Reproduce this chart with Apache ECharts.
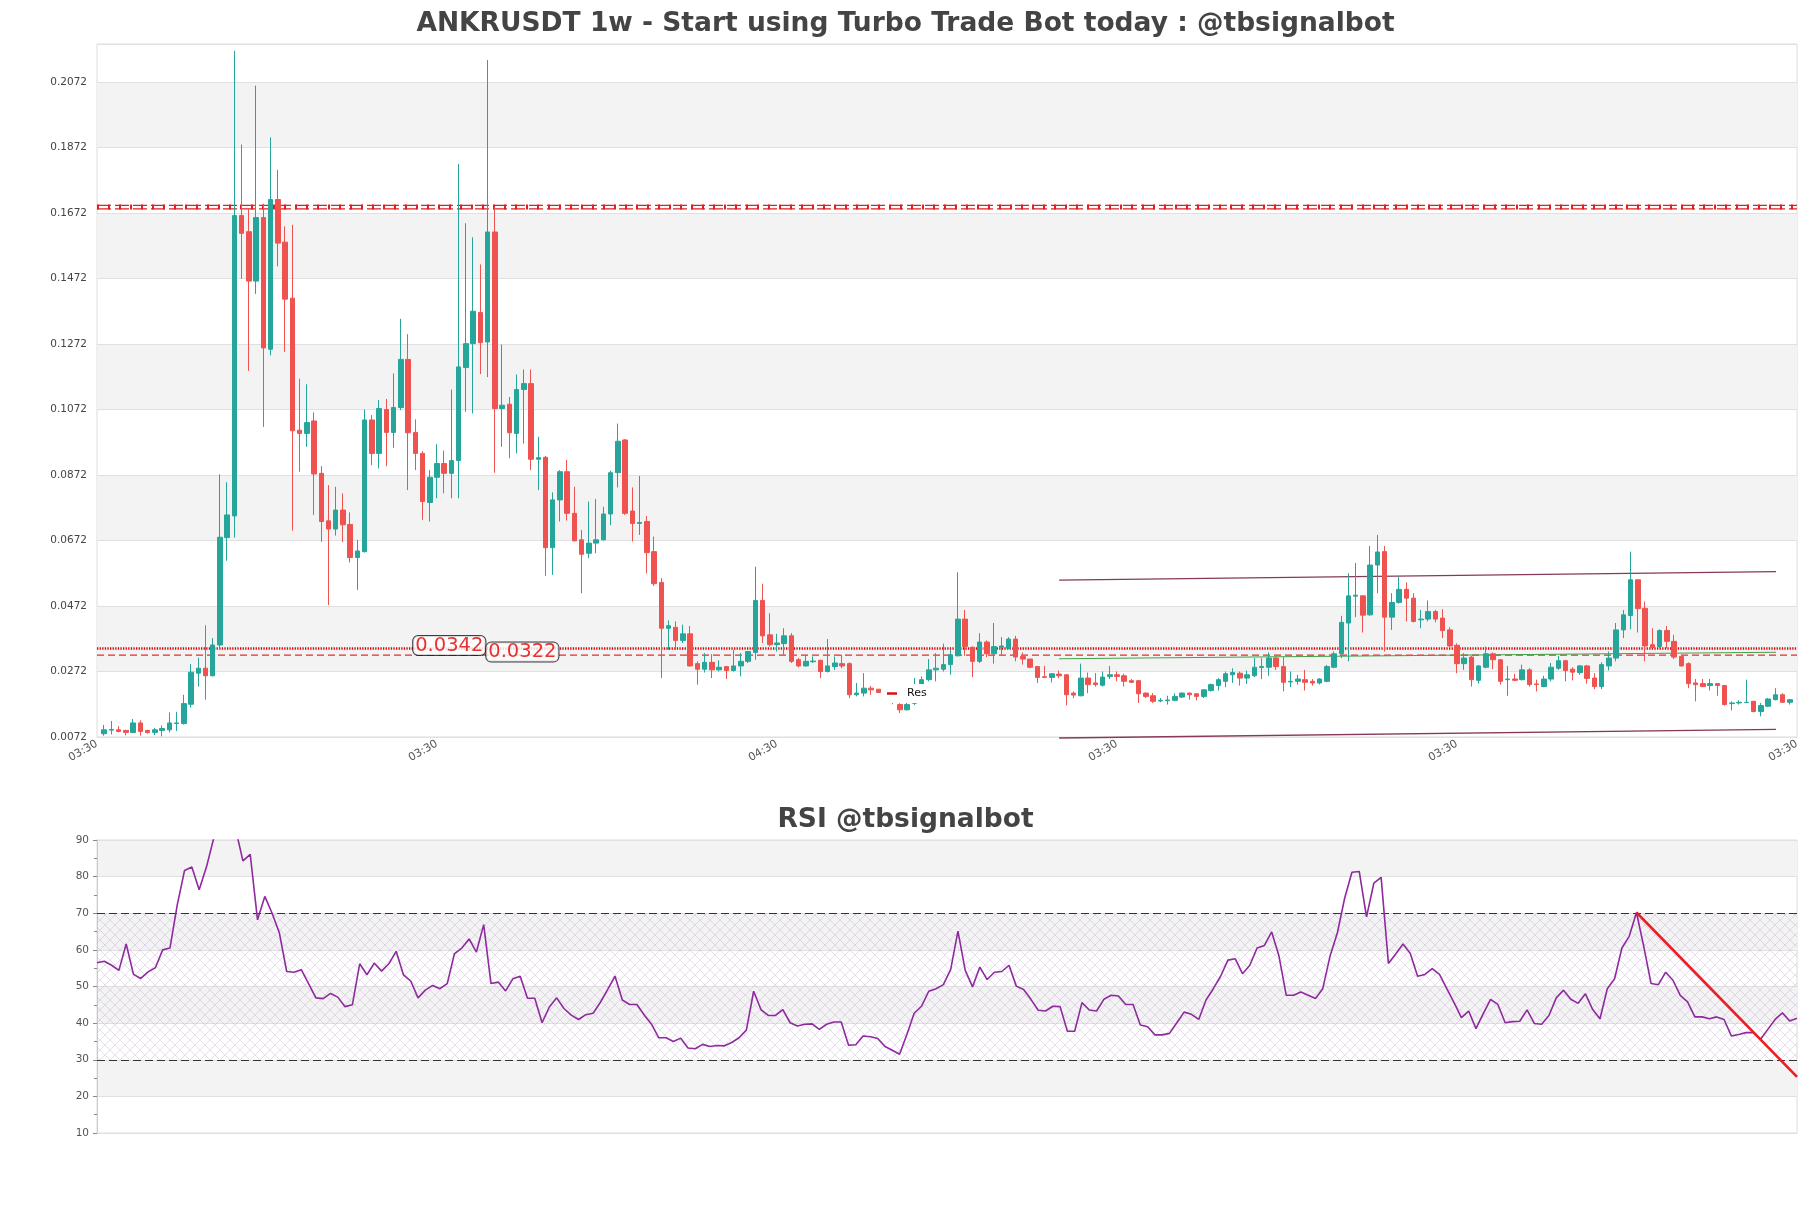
<!DOCTYPE html>
<html><head><meta charset="utf-8">
<script src="https://cdn.jsdelivr.net/npm/echarts/dist/echarts.min.js"></script>
<style>html,body{margin:0;padding:0;background:#fff}#c{width:1811px;height:1208px}</style>
</head><body><div id="c"></div>
<script>
const opens = [.0082,.0093,.0094,.0092,.0086,.0115,.0092,.0086,.0092,.0094,.0113,.0113,.0172,.0267,.0282,.0259,.0353,.0681,.0747,.1664,
.1615,.1464,.1658,.1256,.1713,.1583,.1412,.1009,.0999,.1037,.0877,.0732,.0707,.0765,.0721,.0620,.0638,.1040,.0938,.1072,
.1002,.1078,.1225,.1002,.0938,.0788,.0865,.0907,.0877,.0916,.1200,.1273,.1368,.1278,.1614,.1075,.1088,.0999,.1133,.1151,
.0920,.0926,.0650,.0796,.0882,.0755,.0674,.0633,.0664,.0674,.0753,.0879,.0979,.0762,.0724,.0730,.0638,.0544,.0404,.0407,
.0367,.0387,.0296,.0279,.0300,.0277,.0287,.0275,.0289,.0303,.0330,.0489,.0384,.0354,.0357,.0381,.0308,.0289,.0302,.0306,
.0272,.0287,.0296,.0296,.0201,.0206,.0221,.0218,.0208,.0195,.0171,.0155,.0175,.0229,.0247,.0277,.0279,.0293,.0320,.0432,
.0346,.0303,.0362,.0326,.0346,.0343,.0371,.0318,.0310,.0287,.0256,.0254,.0264,.0262,.0206,.0198,.0252,.0237,.0230,.0257,
.0262,.0259,.0244,.0244,.0206,.0198,.0182,.0183,.0184,.0194,.0206,.0204,.0196,.0214,.0229,.0242,.0262,.0267,.0252,.0259,
.0284,.0285,.0313,.0287,.0240,.0242,.0247,.0242,.0237,.0242,.0285,.0326,.0420,.0502,.0503,.0445,.0597,.0638,.0438,.0483,
.0523,.0496,.0430,.0432,.0455,.0435,.0399,.0352,.0296,.0316,.0245,.0285,.0326,.0308,.0247,.0249,.0247,.0277,.0234,.0226,
.0249,.0282,.0305,.0279,.0269,.0289,.0252,.0226,.0289,.0313,.0399,.0443,.0552,.0465,.0354,.0348,.0397,.0364,.0318,.0296,
.0237,.0235,.0229,.0235,.0229,.0174,.0176,.0177,.0181,.0150,.0166,.0186,.0201,.0178];
const closes = [.0094,.0095,.0089,.0086,.0115,.0089,.0086,.0094,.0098,.0115,.0115,.0174,.0270,.0282,.0259,.0353,.0682,.0750,.1664,.1610,
.1464,.1658,.1260,.1713,.1580,.1409,.1007,.0999,.1032,.0875,.0730,.0707,.0765,.0720,.0620,.0640,.1040,.0938,.1075,.1002,
.1078,.1225,.1001,.0938,.0791,.0865,.0907,.0877,.0916,.1202,.1273,.1372,.1276,.1614,.1075,.1085,.1001,.1133,.1151,.0920,
.0925,.0650,.0796,.0882,.0755,.0671,.0630,.0664,.0674,.0753,.0879,.0975,.0755,.0724,.0727,.0635,.0540,.0404,.0412,.0367,
.0387,.0289,.0279,.0300,.0277,.0285,.0275,.0289,.0303,.0333,.0489,.0381,.0354,.0359,.0381,.0303,.0289,.0303,.0304,.0272,
.0289,.0298,.0289,.0201,.0206,.0221,.0216,.0208,.0195,.0180,.0155,.0171,.0232,.0247,.0277,.0282,.0293,.0323,.0432,.0348,
.0303,.0362,.0326,.0348,.0350,.0371,.0316,.0310,.0285,.0254,.0254,.0265,.0259,.0201,.0200,.0252,.0232,.0232,.0255,.0262,
.0257,.0242,.0239,.0204,.0196,.0181,.0184,.0185,.0196,.0206,.0201,.0196,.0216,.0232,.0247,.0265,.0269,.0252,.0262,.0285,
.0287,.0313,.0287,.0239,.0242,.0249,.0239,.0237,.0249,.0287,.0326,.0422,.0503,.0505,.0444,.0597,.0637,.0438,.0483,.0523,
.0496,.0425,.0432,.0455,.0432,.0397,.0350,.0296,.0313,.0247,.0289,.0326,.0308,.0242,.0249,.0245,.0277,.0232,.0232,.0249,
.0285,.0305,.0275,.0270,.0289,.0251,.0226,.0293,.0313,.0399,.0445,.0552,.0464,.0350,.0345,.0397,.0364,.0316,.0289,.0235,
.0232,.0226,.0235,.0229,.0171,.0176,.0178,.0178,.0150,.0168,.0188,.0201,.0178,.0186];
const lows = [.0076,.0080,.0086,.0077,.0084,.0076,.0082,.0078,.0074,.0086,.0090,.0110,.0162,.0226,.0186,.0257,.0338,.0610,.0681,.1471,
.1190,.1425,.1019,.1237,.1509,.1248,.0702,.0882,.0958,.0750,.0668,.0475,.0687,.0667,.0605,.0521,.0635,.0902,.0892,.0899,
.0955,.1070,.0826,.0887,.0735,.0730,.0801,.0816,.0801,.0801,.1065,.1060,.1180,.1171,.0879,.0958,.0923,.0938,.0968,.0887,
.0826,.0564,.0567,.0730,.0733,.0669,.0511,.0618,.0633,.0672,.0719,.0834,.0750,.0669,.0689,.0572,.0533,.0252,.0338,.0338,
.0359,.0287,.0232,.0269,.0252,.0272,.0249,.0272,.0257,.0298,.0308,.0359,.0348,.0333,.0323,.0298,.0285,.0287,.0298,.0252,
.0269,.0277,.0282,.0191,.0196,.0196,.0201,.0206,.0190,.0172,.0145,.0153,.0170,.0226,.0242,.0242,.0272,.0262,.0318,.0320,
.0255,.0298,.0316,.0296,.0323,.0340,.0303,.0293,.0282,.0237,.0252,.0239,.0252,.0168,.0191,.0196,.0206,.0226,.0226,.0249,
.0242,.0226,.0237,.0176,.0191,.0176,.0178,.0171,.0181,.0191,.0186,.0184,.0191,.0211,.0214,.0224,.0237,.0229,.0234,.0255,
.0249,.0259,.0277,.0211,.0224,.0232,.0214,.0229,.0232,.0239,.0282,.0313,.0303,.0438,.0391,.0442,.0511,.0333,.0399,.0479,
.0425,.0422,.0404,.0425,.0422,.0374,.0343,.0267,.0277,.0226,.0235,.0282,.0279,.0232,.0198,.0242,.0245,.0226,.0211,.0224,
.0242,.0277,.0242,.0245,.0262,.0235,.0218,.0218,.0275,.0303,.0374,.0401,.0391,.0303,.0343,.0343,.0343,.0310,.0287,.0221,
.0181,.0224,.0214,.0198,.0168,.0153,.0171,.0176,.0147,.0135,.0163,.0184,.0176,.0171];
const highs = [.0109,.0121,.0105,.0094,.0127,.0123,.0094,.0100,.0107,.0147,.0149,.0201,.0295,.0314,.0413,.0374,.0874,.0850,.2167,.1881,
.1685,.2061,.1700,.1903,.1804,.1631,.1636,.1166,.1149,.1063,.0899,.0841,.0836,.0816,.0758,.0674,.1072,.1055,.1101,.1104,
.1182,.1349,.1302,.1042,.0945,.0887,.0966,.0946,.1133,.1822,.1641,.1598,.1515,.2139,.1690,.1270,.1110,.1179,.1194,.1194,
.0989,.0930,.0819,.0887,.0918,.0836,.0704,.0791,.0799,.0775,.0885,.1029,.0982,.0834,.0869,.0747,.0684,.0557,.0428,.0425,
.0415,.0411,.0303,.0328,.0325,.0306,.0289,.0338,.0328,.0335,.0592,.0540,.0450,.0387,.0404,.0389,.0313,.0323,.0318,.0308,
.0371,.0318,.0323,.0300,.0237,.0267,.0228,.0218,.0210,.0200,.0175,.0176,.0252,.0257,.0310,.0328,.0357,.0340,.0575,.0460,
.0348,.0389,.0367,.0420,.0377,.0377,.0381,.0330,.0310,.0289,.0289,.0267,.0275,.0264,.0211,.0296,.0269,.0267,.0272,.0289,
.0272,.0265,.0249,.0246,.0208,.0206,.0191,.0198,.0206,.0208,.0208,.0206,.0218,.0235,.0252,.0272,.0282,.0272,.0275,.0313,
.0313,.0330,.0318,.0316,.0272,.0262,.0277,.0249,.0252,.0292,.0333,.0442,.0572,.0603,.0505,.0655,.0689,.0655,.0511,.0562,
.0544,.0511,.0460,.0489,.0460,.0462,.0407,.0358,.0328,.0320,.0292,.0348,.0330,.0310,.0289,.0265,.0293,.0282,.0247,.0259,
.0298,.0320,.0306,.0285,.0292,.0292,.0267,.0300,.0333,.0420,.0460,.0638,.0552,.0486,.0404,.0401,.0411,.0384,.0323,.0300,
.0249,.0249,.0249,.0235,.0229,.0181,.0184,.0247,.0181,.0176,.0191,.0221,.0206,.0188];
const rsiValues = [56.5,56.9,55.8,54.4,61.6,53.3,52.2,54.0,55.1,60.0,
60.5,72.3,81.7,82.6,76.4,82.6,90.5,94,97,93,
84.3,86.1,68.2,74.6,70.0,64.6,54.1,53.9,54.6,50.8,
46.9,46.7,48.1,47.1,44.5,45.0,56.2,53.2,56.4,54.2,
56.2,59.6,53.2,51.5,46.9,49.0,50.3,49.4,50.8,59.0,
60.5,63.0,59.4,66.9,50.8,51.2,48.8,52.1,52.8,46.8,
46.8,40.1,44.4,46.9,44.0,42.2,41.0,42.3,42.7,45.7,
49.2,52.8,46.3,45.1,45.1,42.2,39.7,36.0,36.0,35.0,
35.9,33.2,33.0,34.2,33.6,33.9,33.8,34.7,36.0,38.1,
48.7,43.7,42.1,42.1,43.7,40.1,39.2,39.7,39.8,38.3,
39.7,40.3,40.3,34.0,34.1,36.5,36.3,35.8,33.6,32.6,
31.5,36.9,42.7,44.6,48.7,49.4,50.5,54.6,65.1,54.4,
49.9,55.3,51.9,53.9,54.1,55.8,50.1,49.2,46.5,43.5,
43.3,44.6,44.5,37.8,37.8,45.6,43.6,43.3,46.5,47.6,
47.4,45.1,45.1,39.5,39.0,36.8,36.8,37.2,40.1,43.0,
42.4,41.0,46.3,49.4,52.8,57.2,57.6,53.5,55.8,60.5,
61.2,64.9,58.3,47.6,47.6,48.5,47.6,46.7,49.4,58.3,
64.6,74.1,81.2,81.4,69.0,78.2,79.8,56.3,58.9,61.6,
59.0,52.8,53.3,54.9,53.3,49.4,45.6,41.5,43.3,38.5,
42.6,46.5,45.1,40.1,40.4,40.5,43.6,39.9,39.7,42.1,
46.9,49.0,46.5,45.4,48.0,43.7,41.2,49.4,52.1,60.5,
63.7,70.2,60.9,50.8,50.5,53.9,51.7,47.6,45.8,41.7,
41.7,41.2,41.7,41.0,36.5,36.9,37.4,37.4,35.6,38.3,
41.0,42.8,40.6,41.3];
const xTickLabels = ['03:30','03:30','04:30','03:30','03:30','03:30'];
const topResistance = 0.169;
const levelValues = [0.0342, 0.0322];
const levelLabelIdx = [47.7, 57.8];
const channelUpper = [[132, 0.0551], [231.1, 0.0577]];
const channelLower = [[132, 0.0069], [231.1, 0.0095]];
const greenLine = [[132, 0.0311], [231.1, 0.0331]];
const rsiTrend = [[211, 70.2], [233, 25.3]];
const rsiBands = [30, 70];

const N = opens.length;
const xMin = -1, xMax = N, xInt = (N + 1) / 5;
const candleData = opens.map((o, i) => [i, o, closes[i], lows[i], highs[i]]);
const rsiData = rsiValues.map((v, i) => [i, v]);

// hatch pattern
const pc = document.createElement('canvas');
pc.width = 10; pc.height = 10;
const g = pc.getContext('2d');
g.strokeStyle = 'rgba(175,150,195,0.45)';
g.lineWidth = 0.7;
g.beginPath(); g.moveTo(0, 0); g.lineTo(10, 10); g.moveTo(10, 0); g.lineTo(0, 10); g.stroke();

const FONT = 'DejaVu Sans';
const UP = '#26a69a', DOWN = '#ef5350';
const chart = echarts.init(document.getElementById('c'), null, {renderer: 'canvas'});
const hline = (v) => [[xMin, v], [xMax, v]];

chart.setOption({
  animation: false,
  textStyle: {fontFamily: FONT},
  title: [
    {text: 'ANKRUSDT 1w - Start using Turbo Trade Bot today : @tbsignalbot', left: 'center', top: 6,
     textStyle: {fontSize: 26.5, fontWeight: 'bold', color: '#444', fontFamily: FONT}},
    {text: 'RSI @tbsignalbot', left: 'center', top: 802,
     textStyle: {fontSize: 26.5, fontWeight: 'bold', color: '#444', fontFamily: FONT}}
  ],
  legend: {data: ['Res'], left: 881, top: 684, icon: 'rect', itemWidth: 10, itemHeight: 2.5, z: 30, zlevel: 0,
    padding: [4, 6, 4, 6], backgroundColor: '#fff',
    textStyle: {fontSize: 11, color: '#111', fontFamily: FONT, padding: [0, 0, 0, 5]}, selectedMode: false},
  grid: [
    {left: 97, top: 44, width: 1700, height: 693, show: true, borderColor: '#dcdcdc', borderWidth: 1, backgroundColor: 'transparent'},
    {left: 97, top: 840, width: 1700, height: 293, show: true, borderColor: '#dcdcdc', borderWidth: 1, backgroundColor: 'transparent'}
  ],
  xAxis: [
    {type: 'value', gridIndex: 0, min: xMin, max: xMax, interval: xInt,
     axisLine: {show: false}, axisTick: {show: false}, splitLine: {show: false},
     axisLabel: {rotate: 30, fontSize: 11, color: '#555', margin: 6, fontFamily: FONT,
       formatter: (v) => xTickLabels[Math.round((v - xMin) / xInt)] || ''}},
    {type: 'value', gridIndex: 1, min: 0, max: N - 1,
     axisLine: {show: false}, axisTick: {show: false}, splitLine: {show: false}, axisLabel: {show: false}}
  ],
  yAxis: [
    {type: 'value', gridIndex: 0, min: 0.0072, max: 0.2188, interval: 0.02, scale: true,
     axisLine: {show: false}, axisTick: {show: false},
     axisLabel: {fontSize: 10.5, color: '#444', margin: 10, showMaxLabel: false, fontFamily: FONT,
       formatter: (v) => v.toFixed(4)},
     splitLine: {show: true, lineStyle: {color: '#e0e0e0', width: 1}},
     splitArea: {show: true, areaStyle: {color: ['rgba(255,255,255,0)', '#f3f3f3']}}},
    {type: 'value', gridIndex: 1, min: 10, max: 90, interval: 10,
     axisLine: {show: true, lineStyle: {color: '#ccc'}},
     axisTick: {show: true, length: 4, lineStyle: {color: '#888'}},
     minorTick: {show: true, splitNumber: 2, length: 3, lineStyle: {color: '#888'}},
     axisLabel: {fontSize: 10.5, color: '#555', margin: 8, fontFamily: FONT},
     splitLine: {show: true, lineStyle: {color: '#e0e0e0', width: 1}},
     splitArea: {show: true, areaStyle: {color: ['rgba(255,255,255,0)', '#f3f3f3']}}}
  ],
  series: [
    {type: 'line', name: 'top-a', xAxisIndex: 0, yAxisIndex: 0, data: hline(topResistance), symbol: 'none', silent: true,
     lineStyle: {color: '#e02020', width: 5, type: [2, 9]}, z: 3},
    {type: 'line', name: 'top-b', xAxisIndex: 0, yAxisIndex: 0, data: hline(topResistance + 0.00055), symbol: 'none', silent: true,
     lineStyle: {color: '#e02020', width: 1.2, type: [14, 4]}, z: 3},
    {type: 'line', name: 'top-c', xAxisIndex: 0, yAxisIndex: 0, data: hline(topResistance - 0.00055), symbol: 'none', silent: true,
     lineStyle: {color: '#e02020', width: 1.2, type: [14, 4]}, z: 3},
    {type: 'line', name: 'Res', xAxisIndex: 0, yAxisIndex: 0, data: hline(levelValues[0]), symbol: 'none', silent: true,
     color: '#d81010', lineStyle: {color: '#e00000', width: 2.5, type: [1.3, 1.3]}, z: 3},
    {type: 'line', name: 'lvl2', xAxisIndex: 0, yAxisIndex: 0, data: hline(levelValues[1]), symbol: 'none', silent: true,
     lineStyle: {color: '#e03030', width: 1.3, type: [7, 4]}, z: 3},
    {type: 'line', name: 'chanU', xAxisIndex: 0, yAxisIndex: 0, data: channelUpper, symbol: 'none', silent: true, clip: false,
     lineStyle: {color: '#86395a', width: 1.3}, z: 4},
    {type: 'line', name: 'chanL', xAxisIndex: 0, yAxisIndex: 0, data: channelLower, symbol: 'none', silent: true, clip: false,
     lineStyle: {color: '#86395a', width: 1.3}, z: 4},
    {type: 'line', name: 'green', xAxisIndex: 0, yAxisIndex: 0, data: greenLine, symbol: 'none', silent: true,
     lineStyle: {color: '#43a047', width: 1.1}, z: 4},
    {type: 'candlestick', name: 'ANKRUSDT', xAxisIndex: 0, yAxisIndex: 0, data: candleData,
     encode: {x: 0, y: [1, 2, 3, 4]}, barWidth: 5, z: 5,
     itemStyle: {color: UP, color0: DOWN, borderColor: UP, borderColor0: DOWN, borderWidth: 1}},
    {type: 'scatter', name: 'lvlLabels', xAxisIndex: 0, yAxisIndex: 0, symbolSize: 0, silent: true, z: 10,
     data: levelValues.map((v, i) => [levelLabelIdx[i], v]),
     label: {show: true, position: 'inside', offset: [0, -3], fontSize: 19.5, color: '#e00000', fontFamily: FONT,
       backgroundColor: '#fff', borderColor: '#111', borderWidth: 1, borderRadius: 5, padding: [0, 2, -1, 2],
       formatter: (p) => levelValues[p.dataIndex].toFixed(4)}},
    {type: 'line', name: 'RSI', xAxisIndex: 1, yAxisIndex: 1, data: rsiData, symbol: 'none', silent: true, z: 5,
     lineStyle: {color: '#8e2a9e', width: 1.6},
     markArea: {silent: true, itemStyle: {color: {image: pc, repeat: 'repeat'}},
       data: [[{yAxis: rsiBands[0]}, {yAxis: rsiBands[1]}]]},
     markLine: {silent: true, symbol: 'none', label: {show: false},
       lineStyle: {color: '#333', width: 1, type: [8, 4]},
       data: [{yAxis: rsiBands[1]}, {yAxis: rsiBands[0]}]}},
    {type: 'line', name: 'rsiTrend', xAxisIndex: 1, yAxisIndex: 1, data: rsiTrend, symbol: 'none', silent: true, z: 6,
     lineStyle: {color: '#ee1c25', width: 2.6}}
  ]
});
</script>
</body></html>
